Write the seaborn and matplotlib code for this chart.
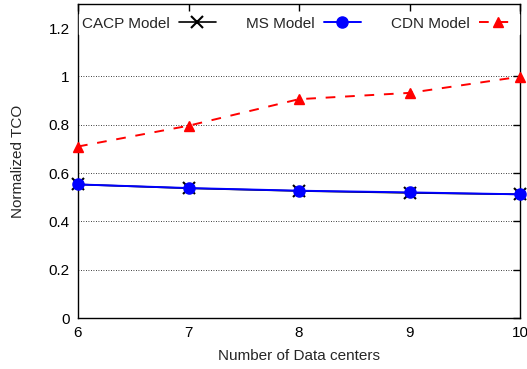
import matplotlib
matplotlib.use("Agg")
import matplotlib.pyplot as plt
import seaborn as sns
import pandas as pd

sns.set_style("white")
plt.rcParams['font.family'] = ['Liberation Sans', 'DejaVu Sans']

data_centers = [6, 7, 8, 9, 10]
cacp_tco = [0.553, 0.537, 0.526, 0.518, 0.512]
ms_tco = [0.553, 0.538, 0.527, 0.520, 0.512]
cdn_tco = [0.710, 0.796, 0.906, 0.932, 0.999]

series = {
    "CACP Model": cacp_tco,
    "MS Model": ms_tco,
    "CDN Model": cdn_tco,
}
df = pd.DataFrame(
    [(x, name, v) for name, vals in series.items() for x, v in zip(data_centers, vals)],
    columns=["dc", "model", "tco"],
)

fig = plt.figure(figsize=(5.27, 3.69), dpi=100)
ax = fig.add_axes([78 / 527, 1 - 318 / 369, (520 - 78) / 527, (318 - 4) / 369])

styles = {
    "CACP Model": dict(color="black", marker="x", linestyle="-", markersize=8, mew=1.5, lw=1.2),
    "MS Model": dict(color="#0000ff", marker="o", linestyle="-", markersize=8, mew=1, lw=1.4),
    "CDN Model": dict(color="#ff0000", marker="^", linestyle=(0, (5, 5)), markersize=7, mew=1, lw=1.4),
}
for name in ["CACP Model", "MS Model", "CDN Model"]:
    st = styles[name]
    sns.lineplot(data=df[df.model == name], x="dc", y="tco", ax=ax, label=name,
                 color=st["color"], marker=st["marker"], linestyle=st["linestyle"],
                 markersize=st["markersize"], markeredgewidth=st["mew"], lw=st["lw"],
                 markeredgecolor=st["color"], clip_on=False, zorder=3)

ax.set_xlim(6, 10)
ax.set_ylim(0, 1.3)
ax.set_xticks(data_centers)
ax.set_yticks([0, 0.2, 0.4, 0.6, 0.8, 1.0, 1.2])
ax.set_yticklabels(["0", "0.2", "0.4", "0.6", "0.8", "1", "1.2"])
ax.tick_params(direction="in", length=5, width=1, top=True, right=True,
               labelsize=11, colors="black", pad=6)
for sp in ax.spines.values():
    sp.set_color("black")
    sp.set_linewidth(1.0)
ax.grid(axis="y", color="black", linestyle=(0, (1, 2)), linewidth=0.6)
ax.set_axisbelow(True)

ax.set_xlabel("Number of Data centers", fontsize=11, labelpad=6)
ax.set_ylabel("Normalized TCO", fontsize=11, labelpad=17)

leg = ax.legend(loc="center", ncol=3, frameon=True, markerfirst=False,
                fontsize=11, handlelength=2.4, columnspacing=2.0, handletextpad=0.6,
                borderaxespad=0.0, borderpad=0.2, facecolor="white", edgecolor="white",
                fancybox=False, bbox_to_anchor=(0.5, 0.937))
leg.get_frame().set_alpha(1.0)

fig.savefig("out.png", dpi=100)
